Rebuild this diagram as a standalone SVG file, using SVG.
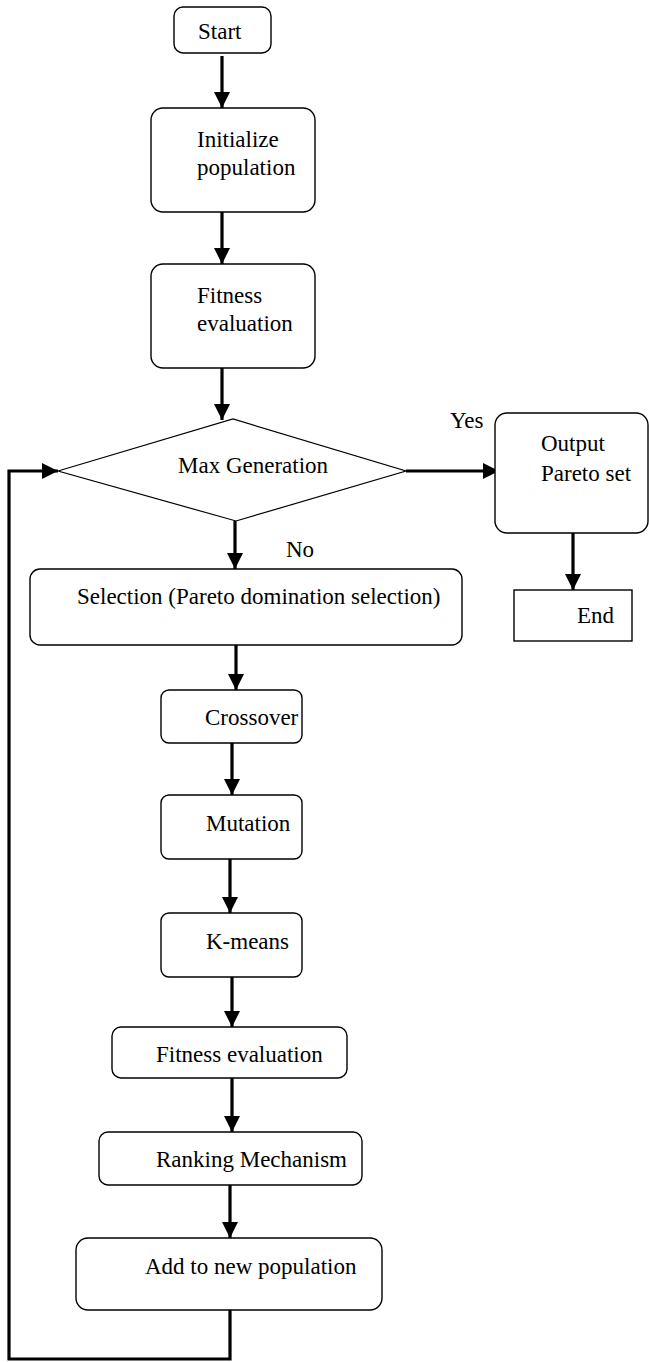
<svg xmlns="http://www.w3.org/2000/svg" width="649" height="1362" viewBox="0 0 649 1362">
<style>
.box{fill:#fff;stroke:#000;stroke-width:1.4}
.dia{fill:#fff;stroke:#000;stroke-width:1.2}
.t{font-family:"Liberation Serif","Times New Roman",serif;font-size:23px;fill:#000}
.c{fill:none;stroke:#000;stroke-width:3.2}
</style>
<defs>
<marker id="ah" markerUnits="userSpaceOnUse" markerWidth="16" markerHeight="16" refX="16" refY="8" orient="auto" viewBox="0 0 16 16">
<path d="M0,0 L16,8 L0,16 z" fill="#000"/>
</marker>
</defs>
<rect width="649" height="1362" fill="#fff"/>
<g id="connectors">
<line class="c" x1="222" y1="56" x2="222" y2="108" marker-end="url(#ah)"/>
<line class="c" x1="222" y1="212" x2="222" y2="264" marker-end="url(#ah)"/>
<line class="c" x1="222" y1="368" x2="222" y2="420" marker-end="url(#ah)"/>
<line class="c" x1="406" y1="471" x2="499" y2="471" marker-end="url(#ah)"/>
<line class="c" x1="573" y1="533" x2="573" y2="590" marker-end="url(#ah)"/>
<line class="c" x1="235" y1="521" x2="235" y2="569" marker-end="url(#ah)"/>
<line class="c" x1="236" y1="645" x2="236" y2="690" marker-end="url(#ah)"/>
<line class="c" x1="232" y1="743" x2="232" y2="795" marker-end="url(#ah)"/>
<line class="c" x1="230" y1="859" x2="230" y2="913" marker-end="url(#ah)"/>
<line class="c" x1="232" y1="977" x2="232" y2="1027" marker-end="url(#ah)"/>
<line class="c" x1="232" y1="1078" x2="232" y2="1132" marker-end="url(#ah)"/>
<line class="c" x1="230" y1="1185" x2="230" y2="1238" marker-end="url(#ah)"/>
<path class="c" d="M230,1310 L230,1359 L9,1359 L9,471 L58,471" marker-end="url(#ah)"/>
</g>
<g id="start">
<rect class="box" x="174" y="7" width="97" height="46" rx="9"/>
<text class="t" x="198" y="39">Start</text>
</g>
<g id="init">
<rect class="box" x="151" y="108" width="164" height="104" rx="12"/>
<text class="t" x="197" y="147">Initialize</text>
<text class="t" x="197" y="175">population</text>
</g>
<g id="fitness1">
<rect class="box" x="151" y="264" width="164" height="104" rx="12"/>
<text class="t" x="197" y="303">Fitness</text>
<text class="t" x="197" y="331">evaluation</text>
</g>
<g id="maxgen">
<polygon class="dia" points="58,471 233,419 406,471 236,521"/>
<text class="t" x="178" y="473">Max Generation</text>
</g>
<text class="t" x="450" y="428">Yes</text>
<text class="t" x="286" y="557">No</text>
<g id="output">
<rect class="box" x="495" y="413" width="153" height="120" rx="12"/>
<text class="t" x="541" y="451">Output</text>
<text class="t" x="541" y="481">Pareto set</text>
</g>
<g id="end">
<rect class="box" x="514" y="590" width="118" height="51"/>
<text class="t" x="577" y="623">End</text>
</g>
<g id="selection">
<rect class="box" x="30" y="569" width="432" height="76" rx="10"/>
<text class="t" x="77" y="604">Selection (Pareto domination selection)</text>
</g>
<g id="crossover">
<rect class="box" x="161" y="690" width="141" height="53" rx="8"/>
<text class="t" x="205" y="725">Crossover</text>
</g>
<g id="mutation">
<rect class="box" x="161" y="795" width="141" height="64" rx="8"/>
<text class="t" x="206" y="831">Mutation</text>
</g>
<g id="kmeans">
<rect class="box" x="161" y="913" width="141" height="64" rx="8"/>
<text class="t" x="206" y="949">K-means</text>
</g>
<g id="fitness2">
<rect class="box" x="112" y="1027" width="235" height="51" rx="9"/>
<text class="t" x="156" y="1062">Fitness evaluation</text>
</g>
<g id="ranking">
<rect class="box" x="99" y="1132" width="263" height="53" rx="9"/>
<text class="t" x="156" y="1167">Ranking Mechanism</text>
</g>
<g id="addpop">
<rect class="box" x="76" y="1238" width="306" height="72" rx="12"/>
<text class="t" x="145" y="1274">Add to new population</text>
</g>
</svg>
